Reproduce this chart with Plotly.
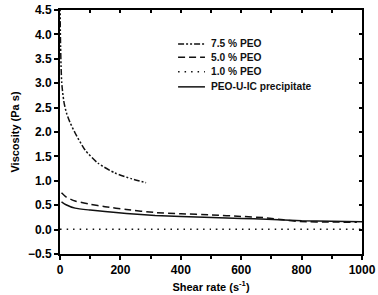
import plotly.graph_objects as go

# 7.5 % PEO
shear_75 = [0.5, 1, 2, 3.5, 5.6, 9, 14, 22, 33, 50, 83, 126, 182, 238, 285]
visc_75 = [4.6, 4.1, 3.75, 3.35, 3.02, 2.8, 2.58, 2.38, 2.2, 1.98, 1.63, 1.36, 1.16, 1.04, 0.96]

# 5.0 % PEO
shear_50 = [5, 20, 50, 100, 149, 220, 315, 400, 503, 600, 685, 740, 795, 900, 983]
visc_50 = [0.756, 0.67, 0.586, 0.52, 0.47, 0.41, 0.35, 0.325, 0.30, 0.27, 0.24, 0.20, 0.165, 0.155, 0.15]

# 1.0 % PEO
shear_10 = [0, 250, 500, 750, 1000]
visc_10 = [0.005, 0.005, 0.005, 0.005, 0.005]

# PEO-U-IC precipitate
shear_ic = [5, 20, 50, 100, 149, 220, 315, 400, 503, 600, 685, 800, 900, 1000]
visc_ic = [0.57, 0.51, 0.44, 0.40, 0.37, 0.33, 0.29, 0.27, 0.25, 0.23, 0.21, 0.18, 0.17, 0.16]

names = ["7.5 % PEO", "5.0 % PEO", "1.0 % PEO", "PEO-U-IC precipitate"]
dashes = ["6px,2px,2px,2px,2px,2px", "7px,4px", "1.5px,5px", "solid"]
series = [(shear_75, visc_75), (shear_50, visc_50), (shear_10, visc_10), (shear_ic, visc_ic)]

FONT = "Liberation Sans"
fig = go.Figure()
for (sx, sy), nm, d in zip(series, names, dashes):
    fig.add_trace(go.Scatter(x=sx, y=sy, mode="lines", name=nm, showlegend=False,
                             line=dict(color="#111111", width=1.5, dash=d, shape="spline", smoothing=0.6)))

# empty trace to anchor the mirrored (top/right) axes
fig.add_trace(go.Scatter(x=[], y=[], xaxis="x2", yaxis="y2", showlegend=False))

# manual legend (keys + labels)
leg_y = [0.861, 0.806, 0.747, 0.685]
for nm, d, yy in zip(names, dashes, leg_y):
    fig.add_shape(type="line", xref="paper", yref="paper", x0=0.391, x1=0.480, y0=yy, y1=yy,
                  line=dict(color="#111111", width=1.5, dash=d))
    fig.add_annotation(x=0.493, y=yy, xref="paper", yref="paper", text="<b>%s</b>" % nm,
                       showarrow=False, xanchor="left", yanchor="middle",
                       font=dict(family=FONT, size=10.2, color="#111111"))

axis_common = dict(showline=True, linecolor="black", linewidth=2, showgrid=False, zeroline=False,
                   tickcolor="black", tickwidth=1.5, automargin=False)
tfont = dict(family=FONT, size=12, color="black")
fig.update_layout(
    width=378, height=295,
    margin=dict(l=60, r=16, t=10, b=41),
    plot_bgcolor="white", paper_bgcolor="white",
    font=dict(family=FONT, color="black"),
    xaxis=dict(range=[0, 1000], dtick=200, ticks="outside", ticklen=4,
               minor=dict(dtick=100, ticks="outside", ticklen=3, tickcolor="black", tickwidth=1.5),
               tickfont=tfont, tickprefix="<b>", ticksuffix="</b>",
               title=dict(text="<b>Shear rate (s<sup>-1</sup>)</b>",
                          font=dict(family=FONT, size=11), standoff=7),
               **axis_common),
    yaxis=dict(range=[-0.5, 4.5], dtick=0.5, tickformat=".1f", ticks="outside", ticklen=4,
               tickfont=tfont, tickprefix="<b>", ticksuffix="</b>",
               title=dict(text="<b>Viscosity (Pa s)</b>",
                          font=dict(family=FONT, size=11), standoff=6),
               **axis_common),
    xaxis2=dict(range=[0, 1000], dtick=100, ticks="inside", ticklen=3, overlaying="x", side="top",
                anchor="y2", showticklabels=False, **axis_common),
    yaxis2=dict(range=[-0.5, 4.5], dtick=0.5, ticks="inside", ticklen=3, overlaying="y", side="right",
                anchor="x2", showticklabels=False, **axis_common),
)
fig.write_html("out.html")
